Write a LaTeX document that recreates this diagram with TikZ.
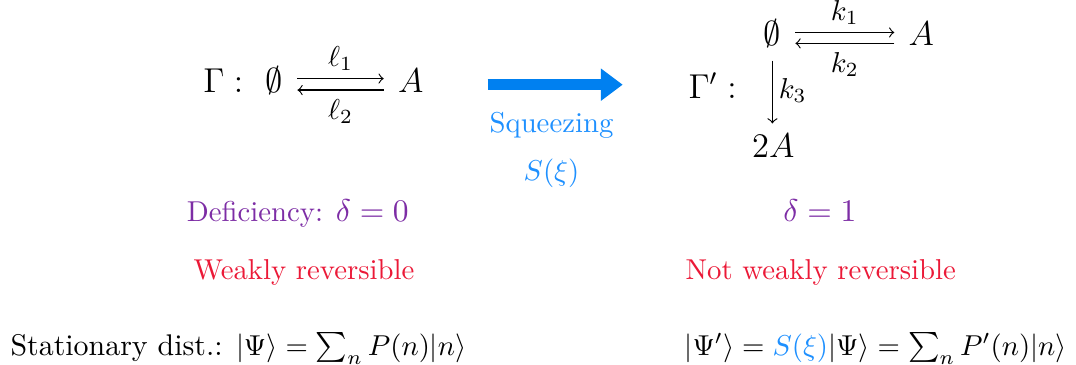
\documentclass[tikz,border=0pt]{standalone}
\usepackage{amsmath,amssymb}
\usetikzlibrary{arrows.meta,positioning}

\definecolor{sqblue}{RGB}{0,128,240}
\definecolor{txtblue}{RGB}{30,144,255}
\definecolor{defpurple}{RGB}{125,45,165}
\definecolor{revred}{RGB}{235,25,55}

\begin{document}
\begin{tikzpicture}[
  species/.style={inner sep=1pt, anchor=base, font=\large},
  rxn/.style={-to, thin, shorten <=3.8pt, shorten >=3.8pt},
  rate/.style={inner sep=1pt},
  squeeze/.style={-{Triangle[length=7.6pt, width=10.8pt]}, line width=3.8pt, draw=sqblue},
  note/.style={anchor=base, inner sep=0pt},
  formula/.style={anchor=base west, inner sep=0pt, font=\fontsize{10.4pt}{12pt}\selectfont},
]
\useasboundingbox (0,0) rectangle (13.15,-4.45);

% === Network Gamma (left) ===
\node[species] (gam) at (2.73,-1.136) {$\Gamma :$};
\node[species] (e1) at (3.354,-1.136) {$\emptyset$};
\node[species] (a1) at (5.02,-1.136) {$A$};

\draw[rxn] ([yshift=5pt]e1.base east) -- node[rate, above=1.5pt] (l1) {$\ell_1$} ([yshift=5pt]a1.base west);
\draw[rxn] ([yshift=1pt]a1.base west) -- node[rate, below=2pt] (l2) {$\ell_2$} ([yshift=1pt]e1.base east);

% === Squeezing map ===
\coordinate (sqzL) at (5.96,-1.035);
\coordinate (sqzR) at (7.61,-1.035);
\draw[squeeze] (sqzL) -- (sqzR);
\node[note, text=txtblue] (sqz) at (6.74,-1.625) {Squeezing};
\node[note, text=txtblue] (sxi) at (6.74,-2.20) {$S(\xi)$};

% === Network Gamma' (right) ===
\node[species] (gam2) at (8.71,-1.20) {$\Gamma' :$};
\node[species] (e2) at (9.44,-0.562) {$\emptyset$};
\node[species] (a2) at (11.26,-0.562) {$A$};
\node[species] (two) at (9.45,-1.92) {$2A$};

\draw[rxn] ([yshift=4.7pt]e2.base east) -- node[rate, above=1.5pt] (k1) {$k_1$} ([yshift=4.7pt]a2.base west);
\draw[rxn] ([yshift=0.9pt]a2.base west) -- node[rate, below=2pt] (k2) {$k_2$} ([yshift=0.9pt]e2.base east);
\draw[rxn, shorten <=3.2pt, shorten >=2.3pt] (e2.south) -- node[rate, right=1pt] (k3) {$k_3$} (e2.south |- two.north);

% === Properties ===
\node[note, text=defpurple] (def1) at (3.64,-2.71) {Deficiency: {\fontsize{10.8pt}{12pt}\selectfont$\delta = 0$}};
\node[note, text=defpurple, font=\fontsize{10.8pt}{12pt}\selectfont] (def2) at (10.02,-2.71) {$\delta = 1$};
\node[note, text=revred] (rev1) at (3.715,-3.42) {Weakly reversible};
\node[note, text=revred] (rev2) at (10.03,-3.42) {Not weakly reversible};

% === Stationary distributions ===
\node[formula] (stat1) at (0.122,-4.34)
  {Stationary dist.: $|\Psi\rangle = \sum_n P(n) |n\rangle$};
\node[formula] (stat2) at (8.36,-4.34)
  {$|\Psi'\rangle = {\color{txtblue}S(\xi)} |\Psi\rangle = \sum_n P'(n) |n\rangle$};

\end{tikzpicture}
\end{document}
